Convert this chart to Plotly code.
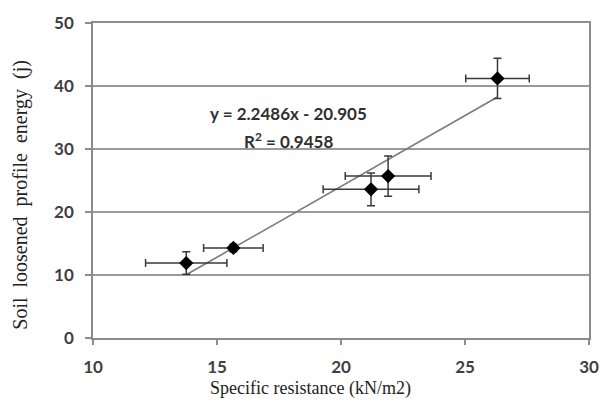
import plotly.graph_objects as go

# Measured points: specific resistance vs soil loosened profile energy
resistance = [13.76, 15.66, 21.21, 21.90, 26.31]
energy = [11.9, 14.3, 23.6, 25.7, 41.2]
resistance_err = [1.64, 1.20, 1.93, 1.73, 1.28]
energy_err = [1.8, 0.6, 2.6, 3.2, 3.2]

# Linear fit y = a*x + b
slope = 2.2486
intercept = -20.905
r_squared = 0.9458

x_ticks = [10, 15, 20, 25, 30]
y_ticks = [0, 10, 20, 30, 40, 50]

x_title = "Specific resistance (kN/m2)"
y_title = "Soil loosened profile energy (j)"

fit_x = [min(resistance), max(resistance)]
fit_y = [slope * v + intercept for v in fit_x]

fig = go.Figure()

fig.add_trace(go.Scatter(
    x=fit_x, y=fit_y, mode="lines",
    line=dict(color="#7a7a7a", width=1.6),
    showlegend=False, hoverinfo="skip",
))

fig.add_trace(go.Scatter(
    x=resistance, y=energy, mode="markers",
    marker=dict(symbol="diamond", size=11, color="black"),
    error_x=dict(type="data", array=resistance_err, color="#3a3a3a",
                 thickness=1.5, width=4),
    error_y=dict(type="data", array=energy_err, color="#3a3a3a",
                 thickness=1.5, width=4),
    showlegend=False,
))

sans = "Lato, Liberation Sans, sans-serif"
serif = "Liberation Serif, Times New Roman, serif"
tick_font = dict(family=sans, size=17, color="#404040")

fig.add_annotation(
    x=17.9, y=35.6, xref="x", yref="y",
    text=f"<b>y = {slope}x - {abs(intercept)}</b>",
    showarrow=False, font=dict(family=sans, size=17, color="#303030"),
)
fig.add_annotation(
    x=17.9, y=31.3, xref="x", yref="y",
    text=f"<b>R<sup>2</sup> = {r_squared}</b>",
    showarrow=False, font=dict(family=sans, size=17, color="#303030"),
)

# Axis titles, placed by pixel position (from top-left) and converted below;
# word gaps are widened as in the typeset figure
fig.add_annotation(
    x=312, y=389, xref="paper", yref="paper", text=x_title,
    xanchor="center", yanchor="middle", showarrow=False,
    font=dict(family=serif, size=18, color="#222222"),
)
fig.add_annotation(
    x=20, y=192, xref="paper", yref="paper",
    text=y_title.replace(" ", "\u00a0 "),
    xanchor="center", yanchor="middle", textangle=-90, showarrow=False,
    font=dict(family=serif, size=20, color="#222222"),
)

fig.update_xaxes(
    range=[10, 30], tickvals=x_ticks,
    ticktext=[f"<b>{v}</b>" for v in x_ticks],
    showgrid=False, zeroline=False,
    showline=True, linecolor="#8c8c8c", linewidth=1.5, mirror=True,
    ticks="outside", ticklen=5, tickcolor="#8c8c8c", tickwidth=1.5,
    tickfont=tick_font, ticklabelstandoff=8,
)
fig.update_yaxes(
    range=[0, 50], tickvals=y_ticks,
    ticktext=[f"<b>{v}</b>" for v in y_ticks],
    showgrid=True, gridcolor="#9a9a9a", gridwidth=1.5, zeroline=False,
    showline=True, linecolor="#8c8c8c", linewidth=1.5, mirror=True,
    ticks="outside", ticklen=6, tickcolor="#8c8c8c", tickwidth=1.5,
    tickfont=tick_font, ticklabelstandoff=8,
)

W, H = 611, 412
M = dict(l=93, r=19, t=18, b=74)
fig.update_layout(
    width=W, height=H, margin=M,
    paper_bgcolor="white", plot_bgcolor="white",
)

# Convert pixel positions of the titles into paper fractions of the plot area
plot_w = W - M["l"] - M["r"]
plot_h = H - M["t"] - M["b"]
for ann in fig.layout.annotations:
    if ann.xref == "paper":
        ann.x = (ann.x - M["l"]) / plot_w
        ann.y = (H - M["b"] - ann.y) / plot_h

fig.write_html("out.html")
